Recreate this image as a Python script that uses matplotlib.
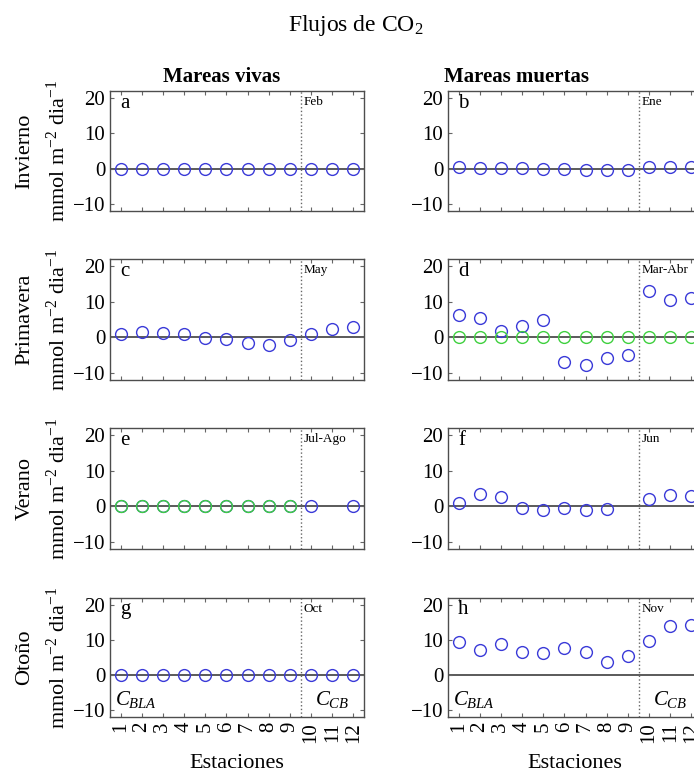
import numpy as np
import matplotlib
matplotlib.use('Agg')
from matplotlib import pyplot as plt

plt.rcParams['font.family'] = ['Liberation Serif', 'DejaVu Serif']
plt.rcParams['mathtext.fontset'] = 'custom'
plt.rcParams['mathtext.rm'] = 'Liberation Serif'
plt.rcParams['mathtext.it'] = 'Liberation Serif:italic'

# estaciones 1-12 (9 en la bahia, 3 en el canal)
estaciones = np.arange(1, 13)

# flujos de CO2 (mmol m-2 dia-1), nan = sin dato
viva_inv = [0, 0, 0, 0, 0, 0, 0, 0, 0, 0, 0, 0]
viva_pri = [1.0, 1.5, 1.2, 0.9, -0.3, -0.6, -1.5, -2.1, -0.9, 0.8, 2.2, 2.8]
viva_ver = [0, 0, 0, 0, 0, 0, 0, 0, 0, 0, np.nan, 0]
viva_ver_g = [0, 0, 0, 0, 0, 0, 0, 0, 0, np.nan, np.nan, np.nan]
viva_oto = [0, 0, 0, 0, 0, 0, 0, 0, 0, 0, 0, 0]

muerta_inv = [0.5, 0.2, 0.3, 0.3, 0.0, -0.2, -0.3, -0.3, -0.5, 0.5, 0.6, 0.5]
muerta_pri = [6.2, 5.4, 1.8, 3.3, 4.8, -7.0, -7.9, -5.9, -5.0, 13.0, 10.4, 11.1]
muerta_pri_g = [0, 0, 0, 0, 0, 0, 0, 0, 0, 0, 0, 0]
muerta_ver = [0.85, 3.4, 2.5, -0.4, -1.0, -0.6, -1.0, -0.85, np.nan, 2.1, 3.2, 3.0]
muerta_oto = [9.4, 7.2, 8.8, 6.6, 6.3, 7.7, 6.5, 3.6, 5.4, 9.6, 13.9, 14.2]

estaciones_nombres = ['Invierno', 'Primavera', 'Verano', 'Oto\u00f1o']
letras = [['a', 'b'], ['c', 'd'], ['e', 'f'], ['g', 'h']]
meses = [['Feb', 'Ene'], ['May', 'Mar-Abr'], ['Jul-Ago', 'Jun'], ['Oct', 'Nov']]

azul = [[viva_inv, muerta_inv], [viva_pri, muerta_pri],
        [viva_ver, muerta_ver], [viva_oto, muerta_oto]]
verde = [[None, None], [None, muerta_pri_g], [viva_ver_g, None], [None, None]]

W, H = 694, 772
fig = plt.figure(figsize=(W / 100, H / 100), dpi=100)

tops = [91, 259, 428, 598]
bots = [211, 380, 549, 717]
lefts = [110, 448]
ancho = 254

c_azul = '#3a3ad8'
c_verde = '#3fd03f'

for i in range(4):
    for j in range(2):
        ax = fig.add_axes([lefts[j] / W, 1 - bots[i] / H, ancho / W,
                           (bots[i] - tops[i]) / H])
        ax.axhline(0, color='0.3', lw=1.3, zorder=1)
        ax.axvline(9.5, color='0.4', lw=1, ls=':', zorder=1)
        ax.plot(estaciones, azul[i][j], 'o', mfc='none', mec=c_azul,
                ms=8.5, mew=1.0, zorder=3)
        if verde[i][j] is not None:
            ax.plot(estaciones, verde[i][j], 'o', mfc='none', mec=c_verde,
                    ms=8.5, mew=1.0, zorder=4)
        ax.set_xlim(0.5, 12.5)
        ax.set_ylim(-12, 22)
        ax.set_yticks([-10, 0, 10, 20])
        ax.set_xticks(estaciones)
        ax.tick_params(direction='in', length=3, top=True, right=True,
                       labelsize=15, color='0.4', width=0.8)
        if i == 3:
            ax.set_xticklabels([str(e) for e in estaciones], rotation=90)
            ax.set_xlabel('Estaciones', fontsize=16, labelpad=8)
            ax.text(0.75, -7, '$C_{BLA}$', fontsize=15, va='center')
            ax.text(10.2, -7, '$C_{CB}$', fontsize=15, va='center')
        else:
            ax.set_xticklabels([])
        for s in ax.spines.values():
            s.set_color('0.3')
            s.set_linewidth(1)
        ax.text(0.04, 0.9, letras[i][j], transform=ax.transAxes,
                fontsize=15, va='center')
        ax.text(9.65, 18.8, meses[i][j], fontsize=9.5, va='center')

    yc = 1 - (tops[i] + bots[i]) / 2 / H
    fig.text(25 / W, yc, estaciones_nombres[i], rotation=90, fontsize=16,
             ha='center', va='center')
    fig.text(58 / W, yc, 'mmol m$^{-2}$ dia$^{-1}$', rotation=90,
             fontsize=16, ha='center', va='center')

fig.text(222 / W, 1 - 77 / H, 'Mareas vivas', fontsize=15,
         fontweight='bold', ha='center', va='center')
fig.text(517 / W, 1 - 77 / H, 'Mareas muertas', fontsize=15,
         fontweight='bold', ha='center', va='center')
fig.text(356 / W, 1 - 25 / H, 'Flujos de CO$_2$', fontsize=17,
         ha='center', va='center')

fig.savefig('out.png', dpi=100)
